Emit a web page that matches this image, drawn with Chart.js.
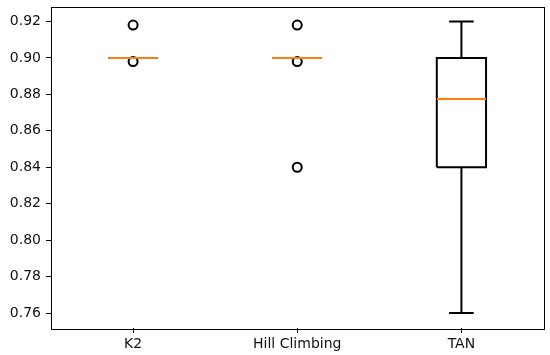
<!DOCTYPE html>
<html>
<head>
<meta charset="utf-8">
<script src="https://cdn.jsdelivr.net/npm/chart.js@4"></script>
<style>
  html, body { margin: 0; padding: 0; background: #fff; }
</style>
</head>
<body>
<canvas id="box" width="550" height="355"></canvas>
<script>
// box plot data
const labels = ['K2', 'Hill Climbing', 'TAN'];
const whiskerLow = [0.90, 0.90, 0.76];
const q1 = [0.90, 0.90, 0.84];
const median = [0.90, 0.90, 0.8775];
const q3 = [0.90, 0.90, 0.90];
const whiskerHigh = [0.90, 0.90, 0.92];
const outliers = [[0.918, 0.898], [0.918, 0.898, 0.84], []];
const yTicks = [0.76, 0.78, 0.80, 0.82, 0.84, 0.86, 0.88, 0.90, 0.92];

const halfBox = 0.15;
const halfCap = 0.075;

function seg(points, color, order) {
    return {
        data: points,
        showLine: true,
        borderColor: color,
        borderWidth: 2,
        pointRadius: 0,
        pointHoverRadius: 0,
        fill: false,
        order: order
    };
}

const datasets = [];
labels.forEach((name, i) => {
    const x = i + 1;
    // median on top
    datasets.push(seg([{x: x - halfBox, y: median[i]}, {x: x + halfBox, y: median[i]}], '#ff7f0e', 0));
    // box
    datasets.push(seg([
        {x: x - halfBox, y: q1[i]}, {x: x + halfBox, y: q1[i]},
        {x: x + halfBox, y: q3[i]}, {x: x - halfBox, y: q3[i]},
        {x: x - halfBox, y: q1[i]}
    ], '#000', 2));
    // whiskers + caps
    datasets.push(seg([{x: x, y: q1[i]}, {x: x, y: whiskerLow[i]}], '#000', 2));
    datasets.push(seg([{x: x, y: q3[i]}, {x: x, y: whiskerHigh[i]}], '#000', 2));
    datasets.push(seg([{x: x - halfCap, y: whiskerLow[i]}, {x: x + halfCap, y: whiskerLow[i]}], '#000', 2));
    datasets.push(seg([{x: x - halfCap, y: whiskerHigh[i]}, {x: x + halfCap, y: whiskerHigh[i]}], '#000', 2));
    // fliers
    if (outliers[i].length) {
        datasets.push({
            data: outliers[i].map(v => ({x: x, y: v})),
            showLine: false,
            pointStyle: 'circle',
            pointRadius: 4.5,
            pointHoverRadius: 4.5,
            pointBorderColor: '#000',
            pointBackgroundColor: 'rgba(0,0,0,0)',
            pointBorderWidth: 2,
            order: 1
        });
    }
});

// full frame round the plot area
const frame = {
    id: 'frame',
    afterDraw(chart) {
        const {ctx, chartArea: a} = chart;
        ctx.save();
        ctx.strokeStyle = '#000';
        ctx.lineWidth = 1;
        ctx.strokeRect(Math.round(a.left) + 0.5, Math.round(a.top) + 0.5,
            Math.round(a.right - a.left), Math.round(a.bottom - a.top));
        ctx.restore();
    }
};

const font = {family: 'DejaVu Sans', size: 14};

new Chart(document.getElementById('box').getContext('2d'), {
    type: 'scatter',
    data: {datasets: datasets},
    plugins: [frame],
    options: {
        responsive: false,
        animation: false,
        layout: {padding: {left: 0, right: 5, top: 6, bottom: 0}},
        plugins: {
            legend: {display: false},
            tooltip: {enabled: false}
        },
        scales: {
            x: {
                type: 'linear',
                min: 0.5,
                max: 3.5,
                afterBuildTicks: scale => { scale.ticks = labels.map((l, i) => ({value: i + 1})); },
                afterFit: scale => { scale.height = 27; scale.paddingLeft = 0; scale.paddingRight = 0; },
                ticks: {
                    font: font,
                    color: '#111',
                    padding: 3,
                    maxRotation: 0,
                    autoSkip: false,
                    callback: v => labels[Math.round(v) - 1]
                },
                grid: {drawOnChartArea: false, tickLength: 5, color: '#000', tickWidth: 1},
                border: {display: false}
            },
            y: {
                min: 0.7518,
                max: 0.9282,
                afterBuildTicks: scale => { scale.ticks = yTicks.map(v => ({value: v})); },
                afterFit: scale => { scale.width = 51; scale.paddingTop = 0; scale.paddingBottom = 0; },
                ticks: {
                    font: font,
                    color: '#111',
                    padding: 5,
                    autoSkip: false,
                    callback: v => v.toFixed(2)
                },
                grid: {drawOnChartArea: false, tickLength: 5, color: '#000', tickWidth: 1},
                border: {display: false}
            }
        }
    }
});
</script>
</body>
</html>
